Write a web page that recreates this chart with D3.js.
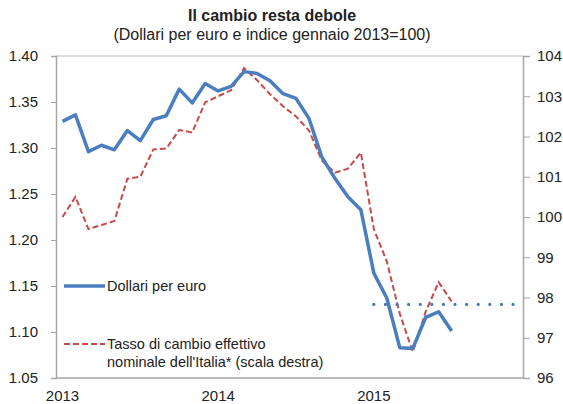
<!DOCTYPE html>
<head>
<meta charset="utf-8">
<script src="https://d3js.org/d3.v7.min.js"></script>
<style>
body { margin: 0; background: #fff; }
text { font-family: Arial, "Liberation Sans", sans-serif; fill: #222; }
.axis line, .axis path { stroke: #a6a6a6; }
</style>
</head>
<body>
<svg width="563" height="404"></svg>
<script>

// month index 0 = gennaio 2013
var yearLabels = ["2013", "2014", "2015"];
var yearMonth  = [0, 12, 24];

// Dollari per euro (scala sinistra), gen 2013 - lug 2015
var dollari = [1.329, 1.336, 1.296, 1.303, 1.298, 1.319, 1.308, 1.331, 1.335, 1.364, 1.349, 1.370,
               1.362, 1.367, 1.383, 1.381, 1.373, 1.359, 1.354, 1.332, 1.290, 1.267, 1.247, 1.233,
               1.164, 1.137, 1.083, 1.082, 1.116, 1.122, 1.101];

// Tasso di cambio effettivo nominale (scala destra)
var tasso = [100.0, 100.5, 99.7, 99.8, 99.9, 100.95, 101.0, 101.68, 101.7, 102.16, 102.1, 102.85,
             103.0, 103.15, 103.7, 103.4, 103.05, 102.75, 102.5, 102.15, 101.4, 101.1, 101.2, 101.6,
             99.7, 98.9, 97.6, 96.65, 97.65, 98.38, 97.9];

// livello di riferimento puntinato, gen - dic 2015
var rifMonths = [24, 35];
var rifValues = [1.13, 1.13];

var leftTicks  = [1.05, 1.10, 1.15, 1.20, 1.25, 1.30, 1.35, 1.40];
var rightTicks = [96, 97, 98, 99, 100, 101, 102, 103, 104];

var svg = d3.select("svg");

var pLeft = 56, pRight = 523, pTop = 56, pBottom = 378;

var x = d3.scaleLinear().domain([-0.5, 35.5]).range([pLeft, pRight]);
var yL = d3.scaleLinear().domain([1.05, 1.40]).range([pBottom, pTop]);
var yR = d3.scaleLinear().domain([96, 104]).range([pBottom, pTop]);

// titolo
svg.append("text").attr("x", 272).attr("y", 21).attr("text-anchor", "middle")
  .style("font-size", "16px").style("font-weight", "bold")
  .text("Il cambio resta debole");
svg.append("text").attr("x", 272).attr("y", 40).attr("text-anchor", "middle")
  .style("font-size", "16px")
  .text("(Dollari per euro e indice gennaio 2013=100)");

// riquadro
svg.append("line").attr("x1", pLeft).attr("x2", pRight).attr("y1", pTop).attr("y2", pTop)
  .attr("stroke", "#d0d0d0").attr("stroke-width", 1.5);
svg.append("line").attr("x1", pLeft).attr("x2", pRight).attr("y1", pBottom).attr("y2", pBottom)
  .attr("stroke", "#a6a6a6").attr("stroke-width", 1.5);

var gl = svg.append("g").attr("class", "axis").attr("transform", "translate(" + pLeft + ",0)")
  .call(d3.axisLeft(yL).tickValues(leftTicks).tickFormat(d3.format(".2f")).tickSize(5).tickPadding(13));
var gr = svg.append("g").attr("class", "axis").attr("transform", "translate(" + pRight + ",0)")
  .call(d3.axisRight(yR).tickValues(rightTicks).tickFormat(d3.format("d")).tickSize(7).tickPadding(7));
[gl, gr].forEach(function(g) {
  g.select(".domain").attr("stroke-width", 1.5);
  g.selectAll("text").style("font-size", "15px").attr("fill", "#222");
});

svg.selectAll(".yearLabel").data(yearLabels).enter().append("text")
  .attr("class", "yearLabel")
  .attr("x", function(d, i) { return x(yearMonth[i]); })
  .attr("y", 401).attr("text-anchor", "middle")
  .style("font-size", "15px")
  .text(function(d) { return d; });

// linee
var lineL = d3.line().x(function(d, i) { return x(i); }).y(function(d) { return yL(d); });
var lineR = d3.line().x(function(d, i) { return x(i); }).y(function(d) { return yR(d); });

svg.append("path").datum(tasso).attr("d", lineR)
  .attr("fill", "none").attr("stroke", "#c94a4a").attr("stroke-width", 2)
  .attr("stroke-dasharray", "6,3");

svg.append("path").datum(dollari).attr("d", lineL)
  .attr("fill", "none").attr("stroke", "#4a7ebf").attr("stroke-width", 3.5)
  .attr("stroke-linejoin", "round");

svg.append("path").datum(rifValues)
  .attr("d", d3.line().x(function(d, i) { return x(rifMonths[i]); }).y(function(d) { return yL(d); }))
  .attr("fill", "none").attr("stroke", "#3f78c4").attr("stroke-width", 3.2)
  .attr("stroke-linecap", "round").attr("stroke-dasharray", "0,11.6");

// legenda
svg.append("line").attr("x1", 64).attr("x2", 105).attr("y1", yL(1.15)).attr("y2", yL(1.15))
  .attr("stroke", "#4a7ebf").attr("stroke-width", 3.5);
svg.append("text").attr("x", 107).attr("y", yL(1.15) + 5).style("font-size", "14.5px")
  .text("Dollari per euro");

svg.append("line").attr("x1", 64).attr("x2", 105).attr("y1", 344).attr("y2", 344)
  .attr("stroke", "#c94a4a").attr("stroke-width", 2).attr("stroke-dasharray", "6,3");
svg.append("text").attr("x", 107).attr("y", 349).style("font-size", "14.5px")
  .text("Tasso di cambio effettivo");
svg.append("text").attr("x", 107).attr("y", 367).style("font-size", "14.5px")
  .text("nominale dell'Italia* (scala destra)");

</script>
</body>
